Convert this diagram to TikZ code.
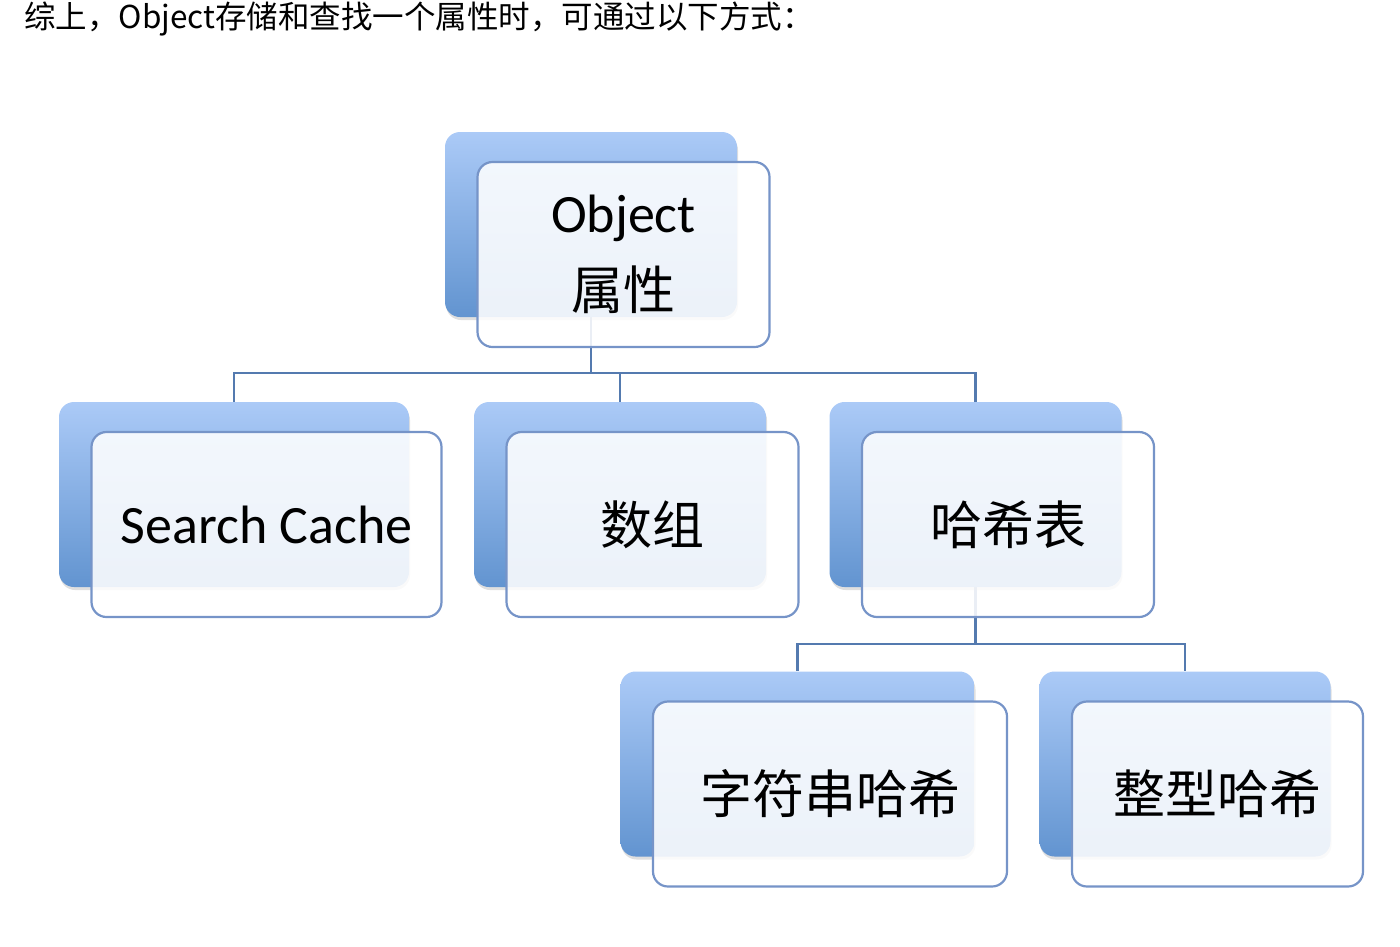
\documentclass[tikz,border=0pt]{standalone}
\usepackage{fontspec}
\setmainfont{Carlito}
\newfontfamily\cjk{Noto Sans CJK SC}
\usetikzlibrary{positioning,shadows,backgrounds}

\definecolor{bluetop}{RGB}{171,202,247}
\definecolor{bluebot}{RGB}{98,148,208}
\definecolor{boxline}{RGB}{118,148,200}
\definecolor{linkblue}{RGB}{84,122,175}

\tikzset{
  back/.style={rounded corners=15pt, minimum height=185pt, inner sep=0pt,
    top color=bluetop, bottom color=bluebot,
    drop shadow={opacity=0.25, shadow xshift=1pt, shadow yshift=-3pt}},
  front/.style={draw=boxline, line width=2.2pt, rounded corners=15pt,
    fill=white, fill opacity=0.88, text opacity=1, inner sep=0pt,
    minimum height=185pt, align=center,
    font=\fontsize{54}{77}\selectfont},
  link/.style={draw=linkblue, line width=2.2pt}
}

\begin{document}
\begin{tikzpicture}[x=1pt,y=-1pt]
  \useasboundingbox (0,0) rectangle (1400,946);
  \node[anchor=west, inner sep=0pt, font=\cjk\fontsize{31.5}{36}\selectfont] (head) at (24,19) {综上，Object存储和查找一个属性时，可通过以下方式：};

  % back boxes
  \node[back, minimum width=292pt] (objb)  at (591,224.5) {};
  \node[back, minimum width=350pt] (scb)   at (234,494.5) {};
  \node[back, minimum width=292pt] (arrb)  at (620,494.5) {};
  \node[back, minimum width=292pt] (hashb) at (975.5,494.5) {};
  \node[back, minimum width=354pt] (strhb) at (797.5,764) {};
  \node[back, minimum width=291pt] (inthb) at (1185,764) {};

  % front boxes
  \node[front, minimum width=292pt] (obj)  at ([shift={(32.5,30)}]objb.center)  {Object\\{\cjk\fontsize{52}{77}\selectfont 属性}};
  \node[front, minimum width=350pt] (sc)   at ([shift={(32.5,30)}]scb.center)   {Search Cache};
  \node[front, minimum width=292pt] (arr)  at ([shift={(32.5,30)}]arrb.center)  {\cjk\fontsize{52}{77}\selectfont 数组};
  \node[front, minimum width=292pt] (hash) at ([shift={(32.5,30)}]hashb.center) {\cjk\fontsize{52}{77}\selectfont 哈希表};
  \node[front, minimum width=354pt] (strh) at ([shift={(32.5,30)}]strhb.center) {\cjk\fontsize{52}{77}\selectfont 字符串哈希};
  \node[front, minimum width=291pt] (inth) at ([shift={(32.5,30)}]inthb.center) {\cjk\fontsize{52}{77}\selectfont 整型哈希};

  \coordinate[below=56pt of objb.south] (bus1);
  \coordinate[below=57pt of hashb.south] (bus2);

  \begin{scope}[on background layer]
    \draw[link] (objb.south) -- (bus1) -| (scb.north);
    \draw[link] (bus1) -| (arrb.north);
    \draw[link] (bus1) -| (hashb.north);
    \draw[link] (hashb.south) -- (bus2) -| (strhb.north);
    \draw[link] (bus2) -| (inthb.north);
  \end{scope}
\end{tikzpicture}
\end{document}
